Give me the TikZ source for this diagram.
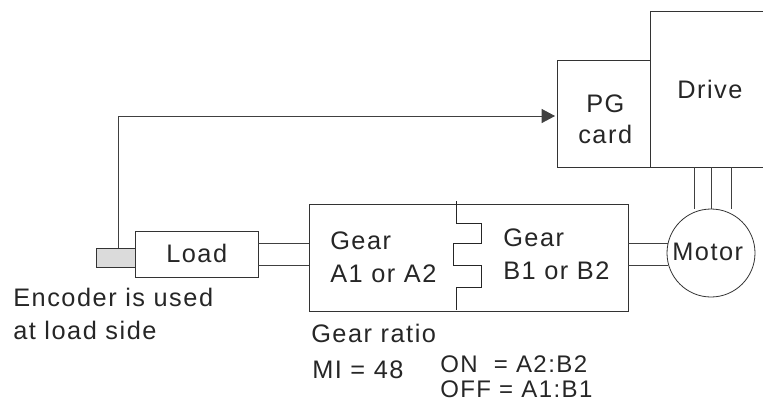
\documentclass[tikz,border=0pt]{standalone}
\usepackage{fontspec}
\setmainfont[LetterSpace=6]{Liberation Sans}
\usetikzlibrary{arrows.meta}
\tikzset{
  blockbox/.style={draw=black!80,line width=0.7pt,fill=white,anchor=north west,inner sep=0pt},
  wire/.style={draw=black!75,line width=0.6pt},
  lbl/.style={font=\fontsize{19}{24}\selectfont,text=black!85,inner sep=0pt,anchor=base west},
  lblsmall/.style={font=\fontsize{18}{20}\selectfont,text=black!85,inner sep=0pt,anchor=base west},
}
\begin{document}
\begin{tikzpicture}[>=Stealth,x=0.75pt,y=-0.75pt]
    \useasboundingbox (0,0) rectangle (763,401);
    % drive side
    \node[blockbox,minimum width=90pt,minimum height=117pt] (drive) at (650,11) {};
    \node[blockbox,minimum width=69.75pt,minimum height=80.25pt] (pg) at (557,60) {};
    \node[lbl] (drivetext) at (677,98) {Drive};
    \node[lbl] (pgtext) at (586,112) {PG};
    \node[lbl] (cardtext) at (578,143) {card};
    % load side
    \node[blockbox,minimum width=239.25pt,minimum height=80.25pt] (gear) at (309,204) {};
    \node[blockbox,fill=black!14,minimum width=29.25pt,minimum height=14.25pt] (enc) at (96,248) {};
    \node[blockbox,minimum width=92.25pt,minimum height=34.5pt] (load) at (135,231) {};
    \node[draw=black!80,line width=0.6pt,circle,fill=white,minimum size=66pt,inner sep=0pt] (motor) at (711,253) {};
    \node[lbl] (motortext) at (672,260) {Motor};
    \node[lbl] (loadtext) at (166,262) {Load};
    % feedback
    \coordinate (fbup) at (118,248);
    \coordinate (fbcorner) at (118,116);
    \coordinate (fbend) at (555,116);
    \draw[wire,-{Triangle[length=10pt,width=10.5pt]}] (fbup)--(fbcorner)--(fbend);
    % shafts and motor leads
    \foreach \y in {243,265}{
      \draw[wire] (258,\y)--(309,\y);
      \draw[wire] (628,\y)--(668,\y);
    }
    \foreach \x in {694,711,731}{\draw[wire] (\x,167)--(\x,209);}
    % clutch
    \draw[line width=0.7pt,draw=black!85] (456,201)--(456,223)--(481,223)--(481,243)--(453,243)--(453,265)--(481,265)--(481,287)--(456,287)--(456,310);
    % texts
    \node[lbl] (g1) at (330,249) {Gear};
    \node[lbl] (a1) at (330,282) {A1 or A2};
    \node[lbl] (g2) at (503,246) {Gear};
    \node[lbl] (b1) at (503,279) {B1 or B2};
    \node[lbl] (enc1) at (13,306) {Encoder is used};
    \node[lbl] (enc2) at (13,339) {at load side};
    \node[lbl] (ratio) at (311,342) {Gear ratio};
    \node[lbl] (mi) at (312,378) {MI = 48};
    \node[lblsmall] (on) at (440,372) {ON\ \ = A2:B2};
    \node[lblsmall] (off) at (440,397) {OFF = A1:B1};
  \end{tikzpicture}
\end{document}
